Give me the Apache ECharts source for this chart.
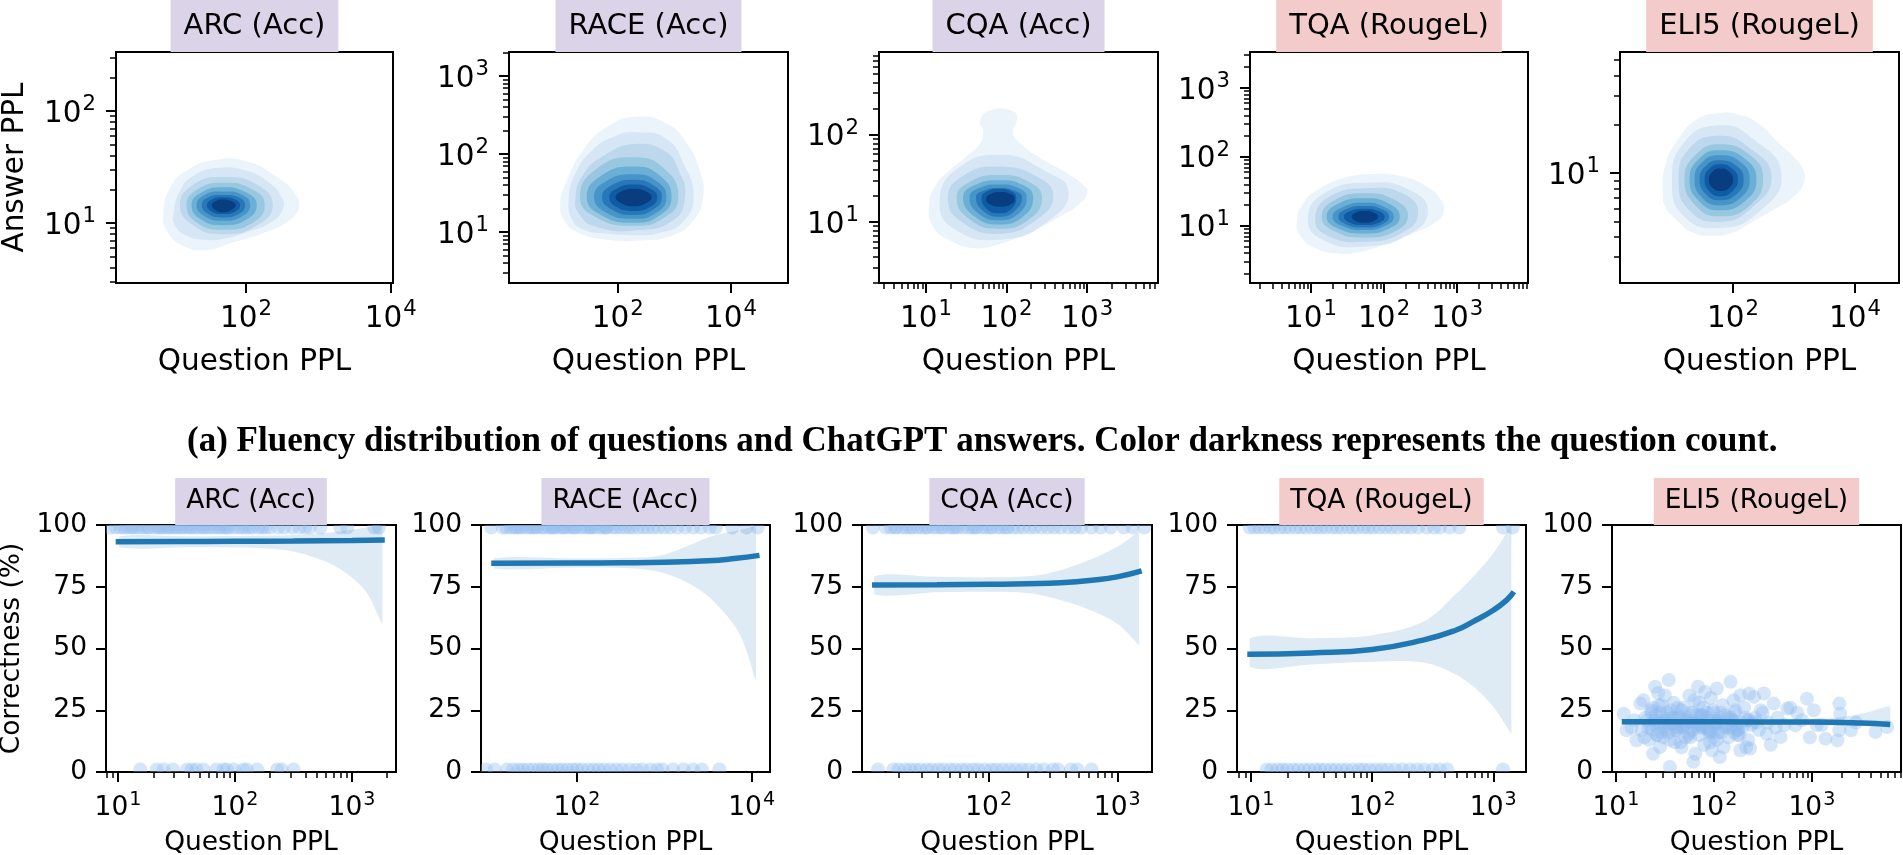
<!DOCTYPE html>
<html><head><meta charset="utf-8">
<script src="https://cdn.jsdelivr.net/npm/echarts@6/dist/echarts.min.js"></script>
<style>html,body{margin:0;padding:0;background:#fff}#c{width:1903px;height:855px}</style>
</head><body><div id="c"></div>
<script>
// ---------------- DATA ----------------
const panelNames = ['ARC (Acc)', 'RACE (Acc)', 'CQA (Acc)', 'TQA (RougeL)', 'ELI5 (RougeL)'];
const panelMetric = ['acc', 'acc', 'acc', 'rouge', 'rouge'];
const captionText = '(a) Fluency distribution of questions and ChatGPT answers. Color darkness represents the question count.';

// Top row: KDE contour outlines (outer -> inner), points are [log10 Question PPL, log10 Answer PPL]
const arcKde = [
 [[0.86,1.08],[0.96,1.32],[1.19,1.47],[1.55,1.56],[2.01,1.55],[2.43,1.41],[2.68,1.26],[2.73,1.14],[2.57,1.01],[2.20,0.90],[1.78,0.82],[1.46,0.76],[1.12,0.80],[0.91,0.93]],
 [[1.00,1.08],[1.10,1.30],[1.30,1.43],[1.60,1.49],[1.98,1.47],[2.30,1.37],[2.50,1.22],[2.50,1.11],[2.33,1.00],[2.02,0.92],[1.70,0.86],[1.42,0.85],[1.17,0.89],[1.02,0.98]],
 [[1.09,1.16],[1.27,1.34],[1.68,1.41],[2.16,1.34],[2.37,1.16],[2.16,0.98],[1.68,0.90],[1.27,0.98]],
 [[1.18,1.16],[1.33,1.30],[1.68,1.36],[2.09,1.30],[2.26,1.16],[2.09,1.00],[1.68,0.94],[1.33,1.00]],
 [[1.25,1.16],[1.38,1.27],[1.68,1.32],[2.01,1.27],[2.15,1.16],[2.01,1.03],[1.68,0.98],[1.38,1.03]],
 [[1.32,1.16],[1.43,1.25],[1.68,1.28],[1.95,1.25],[2.06,1.16],[1.95,1.06],[1.68,1.02],[1.43,1.06]],
 [[1.39,1.16],[1.48,1.23],[1.68,1.25],[1.90,1.23],[1.99,1.16],[1.90,1.08],[1.68,1.05],[1.48,1.08]],
 [[1.46,1.16],[1.53,1.21],[1.68,1.23],[1.85,1.21],[1.92,1.16],[1.85,1.10],[1.68,1.08],[1.53,1.10]],
 [[1.53,1.16],[1.58,1.195],[1.68,1.21],[1.80,1.195],[1.86,1.16],[1.80,1.115],[1.68,1.095],[1.58,1.115]]
];
const raceKde = [
 [[0.98,1.36],[1.10,1.66],[1.39,2.05],[1.81,2.35],[2.34,2.48],[2.87,2.39],[3.22,2.14],[3.45,1.79],[3.51,1.45],[3.34,1.15],[2.98,0.96],[2.39,0.89],[1.81,0.90],[1.34,0.98],[1.07,1.13]],
 [[1.13,1.40],[1.25,1.75],[1.55,2.05],[1.95,2.23],[2.33,2.28],[2.85,2.20],[3.17,1.87],[3.34,1.45],[3.15,1.13],[2.75,0.99],[2.33,0.96],[1.80,0.98],[1.40,1.03],[1.20,1.15]],
 [[1.25,1.43],[1.40,1.75],[1.75,1.98],[2.30,2.13],[2.85,2.03],[3.08,1.78],[3.19,1.47],[2.98,1.15],[2.30,1.02],[1.60,1.07],[1.33,1.22]],
 [[1.33,1.45],[1.615,1.807],[2.28,1.96],[2.833,1.807],[3.07,1.45],[2.833,1.19],[2.28,1.08],[1.615,1.19]],
 [[1.45,1.45],[1.70,1.72],[2.28,1.84],[2.75,1.72],[2.95,1.45],[2.75,1.22],[2.28,1.12],[1.70,1.22]],
 [[1.58,1.45],[1.79,1.65],[2.28,1.74],[2.69,1.65],[2.86,1.45],[2.69,1.25],[2.28,1.17],[1.79,1.25]],
 [[1.72,1.45],[1.89,1.60],[2.28,1.67],[2.63,1.60],[2.78,1.45],[2.63,1.29],[2.28,1.22],[1.89,1.29]],
 [[1.85,1.45],[1.98,1.56],[2.28,1.61],[2.57,1.56],[2.70,1.45],[2.57,1.32],[2.28,1.27],[1.98,1.32]],
 [[1.96,1.445],[2.06,1.52],[2.28,1.555],[2.50,1.52],[2.60,1.445],[2.50,1.37],[2.28,1.33],[2.06,1.37]]
];
const cqaKde = [
 [[1.04,1.21],[1.13,1.44],[1.30,1.60],[1.50,1.75],[1.67,1.90],[1.71,2.04],[1.67,2.17],[1.83,2.29],[2.08,2.27],[2.13,2.19],[2.08,2.02],[2.17,1.90],[2.46,1.71],[2.75,1.56],[2.98,1.40],[3.00,1.33],[2.91,1.21],[2.66,1.06],[2.33,0.90],[1.92,0.75],[1.59,0.70],[1.30,0.79],[1.09,0.94]],
 [[1.17,1.25],[1.40,1.62],[1.95,1.77],[2.45,1.60],[2.77,1.35],[2.50,1.00],[1.95,0.80],[1.35,0.92]],
 [[1.27,1.27],[1.46,1.53],[1.92,1.635],[2.38,1.52],[2.58,1.30],[2.38,1.03],[1.92,0.865],[1.46,0.99]],
 [[1.38,1.28],[1.54,1.46],[1.91,1.54],[2.28,1.46],[2.44,1.28],[2.28,1.03],[1.91,0.92],[1.54,1.03]],
 [[1.46,1.28],[1.60,1.42],[1.91,1.48],[2.21,1.42],[2.33,1.28],[2.21,1.065],[1.91,0.97],[1.60,1.065]],
 [[1.54,1.28],[1.65,1.386],[1.91,1.43],[2.15,1.386],[2.25,1.28],[2.15,1.097],[1.91,1.02],[1.65,1.097]],
 [[1.62,1.28],[1.71,1.358],[1.91,1.39],[2.10,1.358],[2.19,1.28],[2.10,1.125],[1.91,1.06],[1.71,1.125]],
 [[1.69,1.28],[1.755,1.35],[1.91,1.38],[2.06,1.35],[2.12,1.28],[2.06,1.15],[1.91,1.10],[1.755,1.15]],
 [[1.745,1.265],[1.80,1.32],[1.92,1.345],[2.05,1.32],[2.10,1.265],[2.05,1.20],[1.92,1.175],[1.80,1.20]]
];
const tqaKde = [
 [[0.805,1.06],[0.895,1.33],[1.12,1.54],[1.44,1.69],[1.85,1.75],[2.26,1.71],[2.58,1.57],[2.78,1.37],[2.81,1.18],[2.67,1.03],[2.40,0.89],[2.03,0.74],[1.67,0.62],[1.35,0.60],[1.03,0.69],[0.85,0.86]],
 [[0.955,1.10],[1.18,1.47],[1.80,1.626],[2.35,1.52],[2.60,1.22],[2.35,0.88],[1.70,0.694],[1.15,0.80]],
 [[1.055,1.10],[1.25,1.42],[1.78,1.544],[2.27,1.46],[2.464,1.18],[2.25,0.90],[1.72,0.767],[1.22,0.86]],
 [[1.145,1.13],[1.32,1.37],[1.75,1.471],[2.15,1.37],[2.327,1.15],[2.15,0.92],[1.73,0.83],[1.32,0.92]],
 [[1.214,1.13],[1.37,1.32],[1.73,1.398],[2.07,1.32],[2.214,1.13],[2.07,0.96],[1.73,0.888],[1.37,0.96]],
 [[1.295,1.13],[1.43,1.27],[1.73,1.335],[2.01,1.27],[2.132,1.13],[2.01,0.995],[1.73,0.937],[1.43,0.995]],
 [[1.373,1.13],[1.48,1.24],[1.73,1.286],[1.97,1.24],[2.068,1.13],[1.97,1.02],[1.73,0.976],[1.48,1.02]],
 [[1.45,1.13],[1.53,1.21],[1.73,1.248],[1.93,1.21],[2.009,1.13],[1.93,1.045],[1.73,1.01],[1.53,1.045]],
 [[1.555,1.13],[1.61,1.19],[1.73,1.218],[1.86,1.19],[1.918,1.13],[1.86,1.07],[1.73,1.044],[1.61,1.07]]
];
const eli5Kde = [
 [[0.85,0.87],[0.90,1.06],[1.12,1.22],[1.40,1.33],[1.75,1.37],[2.11,1.36],[2.44,1.30],[2.71,1.20],[2.99,1.10],[3.15,1.02],[3.16,0.94],[2.99,0.85],[2.66,0.77],[2.33,0.70],[2.00,0.63],[1.67,0.61],[1.34,0.63],[1.07,0.71],[0.90,0.78]],
 [[1.00,0.94],[1.20,1.19],[1.76,1.296],[2.30,1.22],[2.795,0.99],[2.40,0.75],[1.76,0.658],[1.20,0.73]],
 [[1.11,0.95],[1.28,1.15],[1.77,1.23],[2.25,1.16],[2.63,0.98],[2.30,0.78],[1.77,0.696],[1.28,0.77]],
 [[1.205,0.96],[1.38,1.11],[1.78,1.178],[2.28,1.11],[2.493,0.97],[2.28,0.80],[1.78,0.731],[1.38,0.80]],
 [[1.288,0.96],[1.44,1.087],[1.78,1.141],[2.20,1.087],[2.384,0.96],[2.20,0.826],[1.78,0.768],[1.44,0.826]],
 [[1.37,0.96],[1.49,1.065],[1.78,1.11],[2.13,1.065],[2.274,0.96],[2.13,0.848],[1.78,0.80],[1.49,0.848]],
 [[1.452,0.96],[1.55,1.043],[1.78,1.079],[2.06,1.043],[2.175,0.96],[2.06,0.869],[1.78,0.83],[1.55,0.869]],
 [[1.534,0.96],[1.61,1.026],[1.79,1.054],[1.99,1.026],[2.082,0.96],[1.99,0.886],[1.79,0.855],[1.61,0.886]],
 [[1.605,0.957],[1.66,1.006],[1.80,1.027],[1.94,1.006],[2.00,0.957],[1.94,0.908],[1.80,0.888],[1.66,0.908]]
];

// Top row axis limits (log10) and decade ticks
const topXRange = [[0.207,4.03],[0.076,5.01],[0.416,3.88],[0.164,3.97],[0.148,4.72]];
const topYRange = [[0.464,2.527],[0.346,3.31],[0.30,2.95],[0.17,3.52],[0.317,1.75]];
const topXMajor = [[2,4],[2,4],[1,2,3],[1,2,3],[2,4]];
const topYMajor = [[1,2],[1,2,3],[1,2],[1,2,3],[1]];
const topXMinorOn = [false,false,true,true,false];

// Bottom row: logistic fit, CI band, and per-question correctness (x = log10 Question PPL)
const arcFitX = [0.98,1.5,2.0,2.5,3.0,3.28];
const arcFitY = [93.2,93.3,93.4,93.5,93.7,93.9];
const arcBandX = [1.01,1.6,2.0,2.27,2.5,2.7,2.85,2.99,3.13,3.26];
const arcBandLo = [91.0,91.0,90.9,90.5,89.3,86.5,83.5,79.0,72.3,60.0];
const arcBandHi = [95.3,95.4,95.5,95.7,96.0,96.6,97.2,98.0,99.0,99.8];
const arcRightX = [0.93,0.98,1.02,1.05,1.08,1.11,1.13,1.16,1.19,1.22,1.25,1.27,1.31,1.34,1.36,1.38,1.41,1.43,1.45,1.48,1.5,1.53,1.55,1.58,1.61,1.63,1.66,1.69,1.72,1.74,1.77,1.8,1.83,1.86,1.88,1.91,1.93,1.95,1.99,2.03,2.06,2.09,2.12,2.15,2.2,2.23,2.26,2.3,2.37,2.42,2.49,2.55,2.6,2.64,2.73,2.9,2.96,3.19,3.23];
const arcWrongX = [1.19,1.33,1.39,1.47,1.59,1.63,1.67,1.73,1.84,1.9,1.93,1.99,2.07,2.1,2.19,2.36,2.4,2.5];

const raceFitX = [1.02,2.0,2.5,3.0,3.5,3.8,4.09];
const raceFitY = [84.5,84.6,84.7,84.9,85.5,86.4,87.7];
const raceBandX = [1.05,2.0,2.7,3.0,3.3,3.55,3.86,4.05];
const raceBandLo = [82.4,82.8,82.3,80.5,76.0,69.6,56.0,37.2];
const raceBandHi = [86.5,86.4,86.8,88.0,92.0,95.5,98.0,99.5];
const raceRightX = [1.02,1.15,1.19,1.24,1.28,1.31,1.34,1.37,1.42,1.46,1.49,1.52,1.55,1.6,1.63,1.68,1.71,1.73,1.76,1.81,1.84,1.86,1.9,1.94,1.97,1.99,2.04,2.08,2.12,2.15,2.17,2.21,2.26,2.3,2.33,2.35,2.41,2.45,2.5,2.55,2.6,2.64,2.7,2.76,2.81,2.87,2.93,3.0,3.07,3.15,3.24,3.33,3.42,3.52,3.59,3.78,3.94,4.07];
const raceWrongX = [0.96,1.06,1.2,1.27,1.33,1.38,1.44,1.5,1.56,1.61,1.66,1.72,1.78,1.83,1.89,1.95,2.0,2.06,2.13,2.19,2.25,2.31,2.38,2.45,2.52,2.6,2.68,2.75,2.84,2.92,2.98,3.1,3.22,3.33,3.43,3.63];

const cqaFitX = [1.094,1.6,2.0,2.3,2.56,2.82,3.0,3.19];
const cqaFitY = [75.7,75.8,76.0,76.2,76.6,77.7,79.0,81.4];
const cqaBandX = [1.11,1.6,2.0,2.3,2.46,2.72,3.0,3.17];
const cqaBandLo = [72.0,72.8,73.0,72.5,71.0,67.0,60.0,51.4];
const cqaBandHi = [79.3,79.0,78.8,79.3,80.4,84.5,91.2,97.3];
const cqaRightX = [1.1,1.2,1.24,1.27,1.29,1.33,1.36,1.39,1.41,1.45,1.48,1.51,1.53,1.57,1.6,1.63,1.65,1.69,1.72,1.74,1.76,1.8,1.84,1.87,1.89,1.91,1.95,1.98,2.01,2.03,2.07,2.1,2.13,2.15,2.19,2.23,2.27,2.32,2.36,2.41,2.46,2.51,2.56,2.62,2.67,2.72,2.8,2.87,2.95,3.05,3.12,3.21];
const cqaWrongX = [1.14,1.26,1.3,1.35,1.39,1.43,1.47,1.52,1.56,1.61,1.65,1.7,1.74,1.79,1.83,1.88,1.92,1.97,2.02,2.06,2.11,2.16,2.21,2.26,2.31,2.37,2.43,2.5,2.54,2.64,2.69,2.8];

const tqaFitX = [0.97,1.5,2.0,2.42,2.69,2.83,3.0,3.11,3.17];
const tqaFitY = [47.7,48.2,49.6,53.4,57.4,60.8,65.5,69.6,73.0];
const tqaBandX = [0.99,1.5,2.0,2.42,2.69,2.85,3.0,3.15];
const tqaBandLo = [42.6,43.5,44.6,44.3,39.5,34.0,26.4,15.5];
const tqaBandHi = [54.0,54.2,55.4,60.8,72.0,80.0,88.5,99.8];
const tqaRightX = [0.99,1.03,1.07,1.11,1.16,1.19,1.24,1.28,1.32,1.37,1.41,1.45,1.5,1.54,1.58,1.62,1.67,1.71,1.75,1.8,1.84,1.88,1.93,1.97,2.01,2.06,2.11,2.16,2.21,2.27,2.32,2.38,2.45,2.51,2.56,2.64,2.72,3.08,3.16];
const tqaWrongX = [1.13,1.17,1.22,1.26,1.3,1.35,1.39,1.44,1.48,1.53,1.57,1.61,1.66,1.7,1.75,1.79,1.84,1.89,1.93,1.98,2.03,2.08,2.13,2.19,2.25,2.31,2.37,2.43,2.5,2.56,2.62,3.08];

const eli5FitX = [1.06,2.0,3.0,3.5,3.8];
const eli5FitY = [20.3,20.3,20.2,19.8,19.2];
const eli5BandX = [1.06,1.6,2.0,2.5,3.0,3.3,3.55,3.8];
const eli5BandLo = [19.3,19.6,19.7,19.6,19.2,18.8,18.5,18.2];
const eli5BandHi = [21.3,21.0,20.9,20.9,21.3,22.3,24.0,26.6];
const eli5PointX = [1.54,2.17,1.40,1.84,1.91,2.36,2.51,2.95,3.02,3.28,3.29,2.75,2.78,3.14,3.26,3.28,3.65,3.77,3.40,2.68,2.54,2.83,1.08,1.11,1.21,1.38,1.55,1.79,1.81,2.06,2.27,2.37,1.98,1.45,1.25,1.28,2.03,2.27,2.41,2.61,
 1.30,1.33,1.36,1.39,1.42,1.44,1.47,1.49,1.52,1.55,1.57,1.59,1.62,1.64,1.66,1.69,1.71,1.73,1.76,1.78,1.80,1.82,1.85,1.87,1.89,1.92,1.94,1.96,1.99,2.01,2.04,2.06,2.09,2.12,2.15,2.18,2.21,2.24,2.28,2.31,2.35,2.38,2.42,2.46,2.50,2.55,2.58,2.63,1.26,1.34,1.50,1.67,1.75,1.90,2.10,2.20,2.33,1.60,1.43,1.97,2.65,2.72,2.90,3.05,3.45,2.98,
 1.35,1.41,1.46,1.51,1.56,1.61,1.65,1.70,1.74,1.79,1.83,1.88,1.93,1.97,2.02,2.07,2.13,2.19,2.25,2.32,1.38,1.48,1.58,1.68,1.77,1.86,1.95,2.05,2.16,2.26,1.32,1.44,1.53,1.63,1.72,1.84,1.93,2.00,2.11,2.23,2.40,2.48,1.19,1.16,2.85,3.10,
 1.37,1.40,1.45,1.50,1.54,1.59,1.63,1.67,1.72,1.76,1.81,1.86,1.90,1.95,1.99,2.04,2.08,2.14,2.18,2.22,2.29,2.34,2.44,1.36,1.42,1.49,1.55,1.62,1.69,1.75,1.82,1.88,1.95,2.02,2.09,2.17,2.24,2.36,1.29,1.47,1.66,1.85,2.03,2.21];
const eli5PointY = [37.2,36.5,34.5,34.5,32.4,31.8,31.8,29.7,25.0,27.7,23.6,25.7,26.0,13.5,12.8,16.9,16.2,18.2,16.9,14.2,15.5,18.9,23.6,16.9,12.8,7.4,2.0,4.1,7.4,6.1,8.8,9.5,8.8,10.1,27.7,29.0,33.8,31.1,30.4,27.7,
 22,18,25,20,15,27,22,18,24,13,20,28,17,23,19,26,14,21,24,17,29,20,15,23,26,18,21,12,25,19,16,22,27,18,14,21,24,17,20,26,13,19,22,17,24,20,11,18,17,13,31,10,31,11,10,29,10,12,32,30,22,19,21,19,20,14,
 19,23,16,21,25,17,22,19,15,24,20,18,22,16,20,24,19,21,17,22,26,14,22,18,20,23,16,21,18,15,21,20,17,26,22,18,24,14,23,19,20,25,21,18,24,19,
 17,21,24,19,16,22,18,25,20,14,23,19,21,17,24,20,16,22,19,25,18,21,20,24,15,20,23,18,21,16,19,23,17,20,18,22,15,21,14,27,12,28,13,16];

const botXRange = [[0.897,3.376],[0.903,4.21],[1.016,3.27],[0.885,3.27],[0.96,3.91]];
const botXMajor = [[1,2,3],[2,4],[2,3],[1,2,3],[1,2,3]];
const botXMinorOn = [true,false,true,true,true];
const botYTicks = [0,25,50,75,100];
const correctY = 99, wrongY = 1;   // plotted positions of correct / wrong answers

// ---------------- LAYOUT / STYLE ----------------
const topGrids = [[116,52,277,231],[509,52,279,231],[879,52,279,231],[1250,52,278,231],[1620,52,279,231]];
const botGrids = [[106,525,290,247],[481,525,289,247],[862,525,290,247],[1237,525,289,247],[1612,525,289,247]];
const kdeColors = ['#ecf4fb','#d6e6f4','#bdd7ec','#98c7e0','#6baed6','#4795c8','#2878b9','#105ca4','#083e80'];
const boxColor = {acc:'#dbd3e8', rouge:'#f4cbcb'};
const FONT = 'DejaVu Sans';

const kdeByPanel = [arcKde, raceKde, cqaKde, tqaKde, eli5Kde];
const botPanels = [
 {fx:arcFitX, fy:arcFitY, bx:arcBandX, lo:arcBandLo, hi:arcBandHi, pts: arcRightX.map(x=>[x,correctY]).concat(arcWrongX.map(x=>[x,wrongY]))},
 {fx:raceFitX, fy:raceFitY, bx:raceBandX, lo:raceBandLo, hi:raceBandHi, pts: raceRightX.map(x=>[x,correctY]).concat(raceWrongX.map(x=>[x,wrongY]))},
 {fx:cqaFitX, fy:cqaFitY, bx:cqaBandX, lo:cqaBandLo, hi:cqaBandHi, pts: cqaRightX.map(x=>[x,correctY]).concat(cqaWrongX.map(x=>[x,wrongY]))},
 {fx:tqaFitX, fy:tqaFitY, bx:tqaBandX, lo:tqaBandLo, hi:tqaBandHi, pts: tqaRightX.map(x=>[x,correctY]).concat(tqaWrongX.map(x=>[x,wrongY]))},
 {fx:eli5FitX, fy:eli5FitY, bx:eli5BandX, lo:eli5BandLo, hi:eli5BandHi, pts: eli5PointX.map((x,i)=>[x,eli5PointY[i]])}
];

function minorTicks(range, on) {
  if (!on) return [];
  const out = [];
  for (let n = Math.floor(range[0]); n <= Math.ceil(range[1]); n++) {
    for (let k = 2; k <= 9; k++) { const v = n + Math.log10(k); if (v >= range[0] && v <= range[1]) out.push(v); }
  }
  return out;
}
function expRich(fs) {
  const sfs = Math.round(fs * 0.72 * 10) / 10;
  return {
    b: {fontFamily: FONT, fontSize: fs, color: '#000', lineHeight: Math.round(fs * 1.22), verticalAlign: 'bottom'},
    s: {fontFamily: FONT, fontSize: sfs, color: '#000', lineHeight: Math.round(sfs), verticalAlign: 'top', padding: [Math.round(fs * 0.05), 0, 0, 1]}
  };
}

const grids = [], xAxes = [], yAxes = [], series = [], titles = [];
function addAxes(list, dim, gi, range, majors, minors, isLog, fs, margin, name, nameFs, nameGap) {
  const base = {type: 'value', gridIndex: gi, min: range[0], max: range[1], position: dim === 'x' ? 'bottom' : 'left',
    splitLine: {show: false}, axisLine: {show: false}};
  list.push(Object.assign({}, base, {
    axisTick: {show: true, customValues: majors, length: 10, lineStyle: {color: '#000', width: 2}},
    axisLabel: {show: true, customValues: majors, margin: margin, color: '#000', fontFamily: FONT, fontSize: fs,
      formatter: isLog ? (v => '{b|10}{s|' + Math.round(v) + '}') : (v => String(Math.round(v))),
      rich: isLog ? expRich(fs) : {}},
    name: name || '', nameLocation: 'middle', nameGap: nameGap,
    nameTextStyle: {fontFamily: FONT, fontSize: nameFs, color: '#000'}
  }));
  list.push(Object.assign({}, base, {
    axisTick: {show: minors.length > 0, customValues: minors.length ? minors : [range[0]], length: 6, lineStyle: {color: '#000', width: 1.5}},
    axisLabel: {show: false}
  }));
}
function addTitle(text, kind, cx, top, fs, lh, padV, padH) {
  titles.push({text: text, left: cx - padH, top: top, textAlign: 'center', backgroundColor: boxColor[kind],
    padding: [padV, padH, padV, padH],
    textStyle: {fontFamily: FONT, fontSize: fs, fontWeight: 'normal', color: '#000', lineHeight: lh}});
}

// top row
for (let p = 0; p < 5; p++) {
  const g = topGrids[p], gi = grids.length;
  grids.push({left: g[0], top: g[1], width: g[2], height: g[3], show: true, borderColor: '#000', borderWidth: 2,
    backgroundColor: 'rgba(0,0,0,0)', containLabel: false, outerBoundsMode: 'none'});
  const xi = xAxes.length, yi = yAxes.length;
  addAxes(xAxes, 'x', gi, topXRange[p], topXMajor[p], minorTicks(topXRange[p], topXMinorOn[p]), true, 29.5, 15, 'Question PPL', 29.5, 64);
  addAxes(yAxes, 'y', gi, topYRange[p], topYMajor[p], minorTicks(topYRange[p], true), true, 29.5, 20, p === 0 ? 'Answer PPL' : '', 29.5, 86);
  const levels = kdeByPanel[p];
  series.push({type: 'custom', coordinateSystem: 'cartesian2d', xAxisIndex: xi, yAxisIndex: yi, clip: true, silent: true,
    data: levels.map((pts, i) => [pts[0][0], pts[0][1], i]), encode: {x: 0, y: 1},
    renderItem: function (params, api) {
      const i = api.value(2);
      return {type: 'polygon', shape: {points: levels[i].map(pt => api.coord(pt)), smooth: 0.5},
        style: {fill: kdeColors[i], stroke: null}};
    }});
  addTitle(panelNames[p], panelMetric[p], g[0] + g[2] / 2, 0, 29, 30, 11, 13);
}
// bottom row
for (let p = 0; p < 5; p++) {
  const g = botGrids[p], gi = grids.length;
  grids.push({left: g[0], top: g[1], width: g[2], height: g[3], show: true, borderColor: '#000', borderWidth: 2,
    backgroundColor: 'rgba(0,0,0,0)', containLabel: false, outerBoundsMode: 'none'});
  const xi = xAxes.length, yi = yAxes.length;
  addAxes(xAxes, 'x', gi, botXRange[p], botXMajor[p], minorTicks(botXRange[p], botXMinorOn[p]), true, 26.5, 18, 'Question PPL', 26.5, 58);
  addAxes(yAxes, 'y', gi, [0, 100], botYTicks, [], false, 26.5, 19, p === 0 ? 'Correctness (%)' : '', 26.5, 80);
  const d = botPanels[p];
  // scatter of questions
  series.push({type: 'custom', coordinateSystem: 'cartesian2d', xAxisIndex: xi, yAxisIndex: yi, clip: true, silent: true,
    data: d.pts, encode: {x: 0, y: 1},
    renderItem: function (params, api) {
      const c = api.coord([api.value(0), api.value(1)]);
      return {type: 'circle', shape: {cx: c[0], cy: c[1], r: 7}, style: {fill: 'rgba(140,186,238,0.36)', stroke: null}};
    }});
  // confidence band
  series.push({type: 'custom', coordinateSystem: 'cartesian2d', xAxisIndex: xi, yAxisIndex: yi, clip: true, silent: true,
    data: [[d.bx[0], d.lo[0]]], encode: {x: 0, y: 1},
    renderItem: function (params, api) {
      const up = d.bx.map((x, k) => api.coord([x, d.hi[k]]));
      const dn = d.bx.map((x, k) => api.coord([x, d.lo[k]])).reverse();
      const pts = up.concat(dn);
      const xs = pts.map(q => q[0]), ys = pts.map(q => q[1]);
      const box = [[Math.min.apply(null, xs), Math.min.apply(null, ys)], [Math.max.apply(null, xs), Math.max.apply(null, ys)]];
      return {type: 'polygon', shape: {points: pts, smooth: 0.35, smoothConstraint: box},
        style: {fill: 'rgba(31,119,180,0.15)', stroke: null}};
    }});
  // regression line
  series.push({type: 'line', xAxisIndex: xi, yAxisIndex: yi, symbol: 'none', smooth: true, silent: true, z: 5,
    data: d.fx.map((x, k) => [x, d.fy[k]]), lineStyle: {color: '#1f77b4', width: 5.5}});
  addTitle(panelNames[p], panelMetric[p], g[0] + g[2] / 2, 478, 26.5, 27, 10, 11);
}
titles.push({text: captionText, left: 187, top: 422, padding: 0,
  textStyle: {fontFamily: 'Liberation Serif', fontWeight: 'bold', fontSize: 35, color: '#000', lineHeight: 40}});

const chart = echarts.init(document.getElementById('c'), null, {renderer: 'canvas', width: 1903, height: 855});
chart.setOption({animation: false, backgroundColor: '#fff', title: titles, grid: grids, xAxis: xAxes, yAxis: yAxes, series: series});
</script></body></html>
